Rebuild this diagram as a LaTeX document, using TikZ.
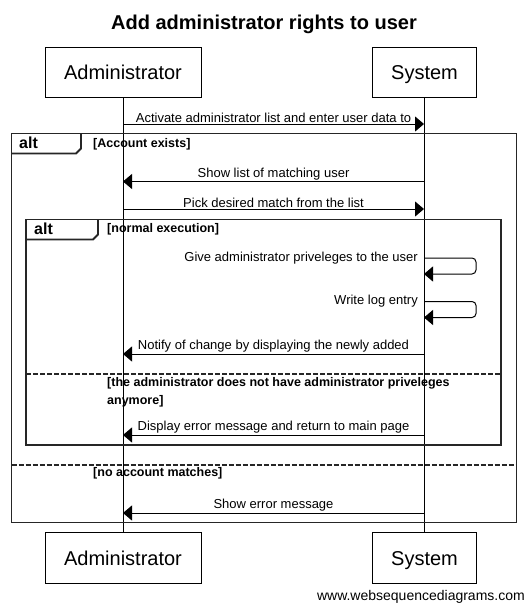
\documentclass[tikz,border=0pt]{standalone}
\usepackage{fontspec}
\setmainfont{Liberation Sans}
\usetikzlibrary{arrows.meta}

\begin{document}
\begin{tikzpicture}[x=1pt,y=-1pt,
   participant/.style={draw,line width=1pt,minimum height=50.5pt,inner sep=0pt,text height=14.5pt,text depth=0pt,font=\fontsize{20}{24}\selectfont},
   lifeline/.style={line width=1pt},
   msg/.style={line width=1pt,-{Triangle[length=9pt,width=15pt]}},
   msgtext/.style={anchor=south,inner sep=1pt,font=\fontsize{13}{15}\selectfont},
   selftext/.style={anchor=east,inner sep=1pt,font=\fontsize{13}{15}\selectfont},
   frame/.style={line width=1.8pt,draw=black!85},
   divider/.style={frame,dash pattern=on 5pt off 2pt},
   guard/.style={anchor=west,inner sep=0pt,align=left,font=\bfseries\fontsize{12.5}{18.5}\selectfont},
   tabtext/.style={anchor=west,inner sep=0pt,font=\bfseries\fontsize{16}{18}\selectfont}]

  \useasboundingbox (0,0) rectangle (527,605);

  % titulo
  \node[font=\bfseries\fontsize{20}{24}\selectfont] (title) at (264,24) {Add administrator rights to user};

  % --- participantes ---
  \node[participant,minimum width=156pt] (admintop) at (123,72.5) {Administrator};
  \node[participant,minimum width=104pt] (systop)   at (424.5,72.5) {System};
  \node[participant,minimum width=156pt] (adminbot) at (123,558) {Administrator};
  \node[participant,minimum width=104pt] (sysbot)   at (424.5,558) {System};
  \draw[lifeline] (admintop) -- (adminbot);
  \draw[lifeline] (systop) -- (sysbot);

  % puntos de los mensajes sobre las lineas de vida
  \foreach \n/\h in {1/124,2/181.5,3/209,4/354,5/435,6/513}{
    \coordinate (a\n) at (123,\h);
    \coordinate (s\n) at (424,\h);
  }
  \coordinate (s7) at (424,258);   \coordinate (s7b) at (424,274);
  \coordinate (s8) at (424,301.5); \coordinate (s8b) at (424,317.5);

  % --- marco exterior: alt ---
  \draw[frame] (11.5,133.5) rectangle (516.5,522.5);
  \draw[frame] (11.5,153.5) -- (76,153.5) -- (81,148.5) -- (81,133.5);
  \node[tabtext] (alt1) at (19,143) {alt};
  \node[guard] (g1) at (93,144) {[Account exists]};
  \draw[divider] (11.5,465) -- (516.5,465);
  \node[guard] (g4) at (93,473) {[no account matches]};

  % --- marco interior: alt ---
  \draw[frame] (26,219.5) rectangle (501,445);
  \draw[frame] (26,239.5) -- (93,239.5) -- (98,234.5) -- (98,219.5);
  \node[tabtext] (alt2) at (34,229) {alt};
  \node[guard] (g2) at (107,229) {[normal execution]};
  \draw[divider] (26,374) -- (501,374);
  \node[guard] (g3) at (107,392.5) {[the administrator does not have administrator priveleges\\anymore]};

  % --- mensajes ---
  \draw[msg] (a1) -- node[msgtext] (m1) {Activate administrator list and enter user data to} (s1);
  \draw[msg] (s2) -- node[msgtext] (m2) {Show list of matching user} (a2);
  \draw[msg] (a3) -- node[msgtext] (m3) {Pick desired match from the list} (s3);
  \draw[msg,rounded corners=4pt] (s7) -- ++(52,0) |- (s7b);
  \node[selftext] (m7) at ([xshift=-5pt]s7) {Give administrator priveleges to the user};
  \draw[msg,rounded corners=4pt] (s8) -- ++(52,0) |- (s8b);
  \node[selftext] (m8) at ([xshift=-5pt]s8) {Write log entry};
  \draw[msg] (s4) -- node[msgtext] (m4) {Notify of change by displaying the newly added} (a4);
  \draw[msg] (s5) -- node[msgtext] (m5) {Display error message and return to main page} (a5);
  \draw[msg] (s6) -- node[msgtext] (m6) {Show error message} (a6);

  \node[anchor=east,inner sep=0pt,font=\fontsize{14}{16}\selectfont] (credit) at (525,597) {www.websequencediagrams.com};
\end{tikzpicture}
\end{document}
